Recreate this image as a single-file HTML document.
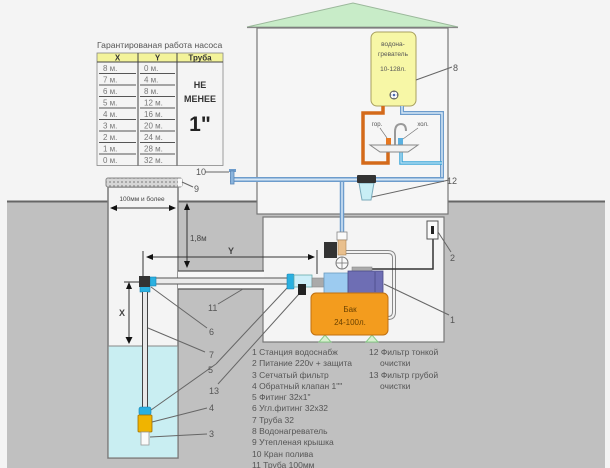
<!DOCTYPE html>
<html><head><meta charset="utf-8"><style>
html,body{margin:0;padding:0;background:#f4f4f4;}
svg{display:block;}
text{font-family:"Liberation Sans","DejaVu Sans",sans-serif;}
</style></head><body>
<svg width="610" height="468" viewBox="0 0 610 468" xmlns="http://www.w3.org/2000/svg">
<defs>
<pattern id="hatch" width="4" height="4" patternUnits="userSpaceOnUse">
<rect width="4" height="4" fill="#d6d6d6"/>
<circle cx="2" cy="2" r="1" fill="#9a9a9a"/>
</pattern>
</defs>
<rect x="0" y="0" width="610" height="468" fill="#f4f4f4"/>

<!-- ground -->
<rect x="7" y="201" width="598" height="267" fill="#c0c0c0"/>
<line x1="7" y1="201.5" x2="605" y2="201.5" stroke="#666" stroke-width="2"/>

<!-- well -->
<rect x="108" y="187" width="70" height="271" fill="#f4f4f4" stroke="#7a7a7a" stroke-width="1.5"/>
<rect x="108.8" y="346" width="68.5" height="111.3" fill="#c9eef2"/>
<line x1="108" y1="346" x2="178" y2="346" stroke="#888" stroke-width="1"/>

<!-- well cover 9 -->
<rect x="106" y="178" width="76" height="9" rx="2" fill="url(#hatch)" stroke="#888" stroke-width="1"/>
<rect x="178" y="178.5" width="4" height="8" fill="#fafafa"/>

<!-- table -->
<text x="97" y="48" font-size="8.6" fill="#555">Гарантированая работа насоса</text>
<rect x="97" y="53" width="126" height="9" fill="#f3f39a"/>
<rect x="97" y="53" width="126" height="112.5" fill="none" stroke="#888" stroke-width="0.8"/>
<line x1="138" y1="53" x2="138" y2="165.5" stroke="#444" stroke-width="1"/>
<line x1="177" y1="53" x2="177" y2="165.5" stroke="#444" stroke-width="1"/>
<line x1="97" y1="62" x2="223" y2="62" stroke="#444" stroke-width="1"/>
<text x="117.5" y="60.5" font-size="8" font-weight="bold" fill="#333" text-anchor="middle">X</text>
<text x="157.5" y="60.5" font-size="8" font-weight="bold" fill="#333" text-anchor="middle">Y</text>
<text x="200" y="60.5" font-size="8" font-weight="bold" fill="#333" text-anchor="middle">Труба</text>
<g stroke="#555" stroke-width="0.9">
<line x1="99" y1="73.5" x2="136" y2="73.5"/><line x1="140" y1="73.5" x2="175" y2="73.5"/>
<line x1="99" y1="85" x2="136" y2="85"/><line x1="140" y1="85" x2="175" y2="85"/>
<line x1="99" y1="96.5" x2="136" y2="96.5"/><line x1="140" y1="96.5" x2="175" y2="96.5"/>
<line x1="99" y1="108" x2="136" y2="108"/><line x1="140" y1="108" x2="175" y2="108"/>
<line x1="99" y1="119.5" x2="136" y2="119.5"/><line x1="140" y1="119.5" x2="175" y2="119.5"/>
<line x1="99" y1="131" x2="136" y2="131"/><line x1="140" y1="131" x2="175" y2="131"/>
<line x1="99" y1="142.5" x2="136" y2="142.5"/><line x1="140" y1="142.5" x2="175" y2="142.5"/>
<line x1="99" y1="154" x2="136" y2="154"/><line x1="140" y1="154" x2="175" y2="154"/>
</g>
<g font-size="8" fill="#777">
<text x="103" y="71">8 м.</text><text x="144" y="71">0 м.</text>
<text x="103" y="82.5">7 м.</text><text x="144" y="82.5">4 м.</text>
<text x="103" y="94">6 м.</text><text x="144" y="94">8 м.</text>
<text x="103" y="105.5">5 м.</text><text x="144" y="105.5">12 м.</text>
<text x="103" y="117">4 м.</text><text x="144" y="117">16 м.</text>
<text x="103" y="128.5">3 м.</text><text x="144" y="128.5">20 м.</text>
<text x="103" y="140">2 м.</text><text x="144" y="140">24 м.</text>
<text x="103" y="151.5">1 м.</text><text x="144" y="151.5">28 м.</text>
<text x="103" y="163">0 м.</text><text x="144" y="163">32 м.</text>
</g>
<text x="200" y="88" font-size="9" font-weight="bold" fill="#333" text-anchor="middle">НЕ</text>
<text x="200" y="102" font-size="9" font-weight="bold" fill="#333" text-anchor="middle">МЕНЕЕ</text>
<text x="200" y="131" font-size="21" font-weight="bold" fill="#222" text-anchor="middle">1"</text>

<!-- house upper -->
<polygon points="247,27 353,3 458,27" fill="#c8ecc8" stroke="#9bb89b" stroke-width="1"/>
<line x1="247" y1="27.5" x2="458" y2="27.5" stroke="#888" stroke-width="1.2"/>
<rect x="257" y="28" width="191" height="186" fill="#f6f6f6" stroke="#777" stroke-width="1.2"/>

<!-- basement -->
<rect x="263" y="217" width="181" height="125" fill="#f4f4f4" stroke="#777" stroke-width="1.2"/>

<!-- heater -->
<rect x="371" y="32" width="45" height="74" rx="6" fill="#f7f7a6" stroke="#a8a060" stroke-width="1"/>
<text x="393" y="46" font-size="6.5" fill="#555" text-anchor="middle">водона-</text>
<text x="393" y="56" font-size="6.5" fill="#555" text-anchor="middle">греватель</text>
<text x="393" y="71" font-size="6.5" fill="#555" text-anchor="middle">10-128л.</text>
<circle cx="394" cy="95" r="4" fill="#fff" stroke="#555" stroke-width="1"/>
<circle cx="394" cy="95" r="1.3" fill="#4a6ab0"/>
<g fill="#666"><circle cx="394" cy="91.8" r="0.6"/><circle cx="394" cy="98.2" r="0.6"/><circle cx="390.8" cy="95" r="0.6"/><circle cx="397.2" cy="95" r="0.6"/></g>
<line x1="416" y1="80" x2="452" y2="67" stroke="#666" stroke-width="1"/>
<text x="453" y="71" font-size="9" fill="#555">8</text>

<!-- pipes sink -->
<path d="M383,106 L383,113 L363,113 L363,163 L388,163 L388,152" fill="none" stroke="#d46a1a" stroke-width="3.5"/>
<path d="M402,106 L402,113 L442,113 L442,180" fill="none" stroke="#6d9ccc" stroke-width="4"/>
<path d="M402,106 L402,113 L442,113 L442,180" fill="none" stroke="#d5e6f5" stroke-width="1.5"/>
<path d="M401,152 L401,163 L442,163" fill="none" stroke="#3aa6d8" stroke-width="3.5"/>
<path d="M401,152 L401,163 L442,163" fill="none" stroke="#bfe3f5" stroke-width="1.2"/>
<path d="M395,145 L395,132 Q395,124 401,124 Q406,124 406,131" fill="none" stroke="#999" stroke-width="2"/>
<rect x="386" y="138" width="5" height="7" fill="#e87820"/>
<rect x="398" y="138" width="5" height="7" fill="#5ab0e0"/>
<polygon points="370,145 418,145 408,152 380,152" fill="#f2f2f2" stroke="#888" stroke-width="1"/>
<text x="377" y="126" font-size="6" fill="#555" text-anchor="middle">гор.</text>
<text x="423" y="126" font-size="6" fill="#555" text-anchor="middle">хол.</text>
<line x1="380" y1="128" x2="387" y2="138" stroke="#777" stroke-width="0.7"/>
<line x1="418" y1="128" x2="403" y2="139" stroke="#777" stroke-width="0.7"/>

<!-- main pipe -->
<line x1="230" y1="179.5" x2="444" y2="179.5" stroke="#6d9ccc" stroke-width="5"/>
<line x1="230" y1="179.5" x2="444" y2="179.5" stroke="#d5e6f5" stroke-width="2"/>
<!-- tap 10 -->
<rect x="229" y="169" width="7" height="3" fill="#6d9ccc"/>
<rect x="230.5" y="171" width="3.5" height="13" fill="#8ab4dd" stroke="#5a86b6" stroke-width="0.8"/>
<line x1="205" y1="172" x2="229" y2="172" stroke="#666" stroke-width="1"/>
<text x="196" y="175" font-size="9" fill="#555">10</text>
<line x1="182" y1="182" x2="193" y2="187" stroke="#666" stroke-width="1"/>
<text x="194" y="192" font-size="9" fill="#555">9</text>

<!-- filter 12 -->
<polygon points="359,183 374,183 371,200 362,200" fill="#c8eef5" stroke="#7aaabb" stroke-width="1"/>
<rect x="357" y="175" width="19" height="8" rx="1" fill="#333"/>
<line x1="372" y1="197" x2="449" y2="180" stroke="#666" stroke-width="1"/>
<text x="447" y="184" font-size="9" fill="#555">12</text>

<!-- vertical supply pipe -->
<line x1="342" y1="182" x2="342" y2="233" stroke="#6d9ccc" stroke-width="4.5"/>
<line x1="342" y1="182" x2="342" y2="233" stroke="#cfe3f5" stroke-width="1.6"/>

<!-- dimension 100мм -->
<text x="142" y="201" font-size="6.5" fill="#444" text-anchor="middle">100мм и более</text>
<line x1="112" y1="208" x2="174" y2="208" stroke="#333" stroke-width="1"/>
<polygon points="110,208 117,205 117,211" fill="#111"/>
<polygon points="176,208 169,205 169,211" fill="#111"/>

<!-- 1,8м -->
<line x1="187" y1="205" x2="187" y2="265" stroke="#333" stroke-width="1"/>
<polygon points="187,203 184,210 190,210" fill="#111"/>
<polygon points="187,268 184,261 190,261" fill="#111"/>
<text x="190" y="241" font-size="8" fill="#444">1,8м</text>

<!-- pipe 11 casing -->
<rect x="178" y="271" width="86" height="18" fill="#f7f7f7"/>
<line x1="178" y1="271" x2="264" y2="271" stroke="#555" stroke-width="1.2"/>
<line x1="178" y1="289" x2="264" y2="289" stroke="#555" stroke-width="1.2"/>
<!-- inner suction pipe -->
<rect x="150" y="278" width="138" height="6" fill="#eaeaea" stroke="#555" stroke-width="1"/>

<!-- Y dimension -->
<line x1="148" y1="257" x2="313" y2="257" stroke="#333" stroke-width="1"/>
<polygon points="146,257 153,254 153,260" fill="#111"/>
<polygon points="315,257 308,254 308,260" fill="#111"/>
<line x1="143" y1="251" x2="143" y2="276" stroke="#333" stroke-width="1"/>
<line x1="317" y1="250" x2="317" y2="274" stroke="#333" stroke-width="1"/>
<text x="231" y="254" font-size="9" font-weight="bold" fill="#444" text-anchor="middle">Y</text>

<!-- well corner fitting 6 -->
<rect x="150" y="277" width="6" height="9" fill="#2ab0e0" stroke="#1680b0" stroke-width="0.6"/>
<rect x="140" y="286" width="10" height="6" fill="#2ab0e0" stroke="#1680b0" stroke-width="0.6"/>
<rect x="139" y="276" width="11" height="11" fill="#333"/>
<!-- pipe 7 -->
<rect x="142" y="292" width="6" height="116" fill="#e8e8e8"/>
<line x1="142.5" y1="292" x2="142.5" y2="408" stroke="#444" stroke-width="1"/>
<line x1="147.5" y1="292" x2="147.5" y2="408" stroke="#444" stroke-width="1"/>
<!-- fitting 5, valve 4, filter 3 -->
<rect x="139" y="407" width="12" height="8" rx="2" fill="#2ab0e0" stroke="#1680b0" stroke-width="0.6"/>
<rect x="138" y="415" width="14" height="17" rx="1" fill="#f0b400" stroke="#a07000" stroke-width="0.8"/>
<rect x="141" y="432" width="8" height="13" fill="#fafafa" stroke="#999" stroke-width="0.8"/>

<!-- X dimension -->
<line x1="124" y1="282" x2="140" y2="282" stroke="#333" stroke-width="1"/>
<line x1="129" y1="284" x2="129" y2="341" stroke="#333" stroke-width="1"/>
<polygon points="129,282 126,289 132,289" fill="#111"/>
<polygon points="129,344 125.5,337 132.5,337" fill="#111"/>
<text x="122" y="316" font-size="9" font-weight="bold" fill="#444" text-anchor="middle">X</text>

<!-- leaders from well -->
<g stroke="#666" stroke-width="1" fill="none">
<line x1="151" y1="287" x2="207" y2="328"/>
<line x1="148" y1="328" x2="205" y2="352"/>
<line x1="151" y1="410" x2="216" y2="364"/>
<line x1="216" y1="364" x2="288" y2="287"/>
<line x1="218" y1="384" x2="299" y2="294"/>
<line x1="152" y1="422" x2="207" y2="408"/>
<line x1="150" y1="437" x2="207" y2="434"/>
<line x1="218" y1="304" x2="243" y2="289"/>
</g>
<g font-size="9" fill="#555">
<text x="209" y="335">6</text>
<text x="209" y="358">7</text>
<text x="208" y="373">5</text>
<text x="209" y="394">13</text>
<text x="209" y="411">4</text>
<text x="209" y="437">3</text>
<text x="208" y="311">11</text>
</g>

<!-- pump side fittings -->
<rect x="287" y="274" width="7" height="15" rx="1" fill="#2ab0e0" stroke="#1680b0" stroke-width="0.6"/>
<rect x="294" y="275" width="18" height="12" fill="#cdeef8" stroke="#6aa" stroke-width="0.8"/>
<rect x="298" y="284" width="8" height="11" fill="#222"/>
<rect x="312" y="278" width="12" height="9" fill="#aaa" stroke="#888" stroke-width="0.6"/>

<!-- hose -->
<path d="M346,252 L388,252 Q394,252 394,258 L394,312 Q394,318 388,318 L386,318" fill="none" stroke="#888" stroke-width="4"/>
<path d="M346,252 L388,252 Q394,252 394,258 L394,312 Q394,318 388,318 L386,318" fill="none" stroke="#f2f2f2" stroke-width="2"/>

<!-- check valve & switch -->
<rect x="337" y="232" width="10" height="8" fill="#fafafa" stroke="#888" stroke-width="0.8"/>
<rect x="338" y="240" width="8" height="15" fill="#e9c08e" stroke="#a88050" stroke-width="0.6"/>
<rect x="324" y="242" width="13" height="16" fill="#333"/>
<circle cx="342" cy="263" r="6" fill="#fafafa" stroke="#777" stroke-width="1"/>
<line x1="336" y1="263" x2="348" y2="263" stroke="#777" stroke-width="0.8"/>
<line x1="342" y1="257" x2="342" y2="269" stroke="#777" stroke-width="0.8"/>

<!-- wire & outlet -->
<path d="M433,239 L433,269 L372,269" fill="none" stroke="#333" stroke-width="1.5"/>
<rect x="427" y="221" width="11" height="18" fill="#fafafa" stroke="#555" stroke-width="1"/>
<rect x="431" y="226" width="3" height="8" fill="#222"/>
<line x1="438" y1="232" x2="451" y2="252" stroke="#666" stroke-width="1"/>
<text x="450" y="261" font-size="9" fill="#555">2</text>

<!-- pump -->
<rect x="352" y="267" width="20" height="6" fill="#aaa" stroke="#888" stroke-width="0.6"/>
<rect x="324" y="273" width="24" height="20" fill="#9ccbf0" stroke="#6a9ac0" stroke-width="0.8"/>
<rect x="348" y="271" width="35" height="22" fill="#6e6eb4" stroke="#4a4a88" stroke-width="0.8"/>
<line x1="375" y1="272" x2="375" y2="292" stroke="#4a4a88" stroke-width="0.8"/>
<line x1="384" y1="284" x2="449" y2="315" stroke="#666" stroke-width="1"/>
<text x="450" y="323" font-size="9" fill="#555">1</text>

<!-- tank -->
<polygon points="325,335 319,342 331,342" fill="#d9f0d0" stroke="#8c8" stroke-width="1"/>
<polygon points="372,335 366,342 378,342" fill="#d9f0d0" stroke="#8c8" stroke-width="1"/>
<rect x="311" y="293" width="77" height="42" rx="5" fill="#f39c1e" stroke="#c07010" stroke-width="1"/>
<text x="350" y="312" font-size="8" fill="#6b4200" text-anchor="middle">Бак</text>
<text x="350" y="325" font-size="8" fill="#6b4200" text-anchor="middle">24-100л.</text>

<!-- legend -->
<g font-size="8.5" fill="#555">
<text x="252" y="355">1 Станция водоснабж</text>
<text x="252" y="366">2 Питание 220v + защита</text>
<text x="252" y="378">3 Сетчатый фильтр</text>
<text x="252" y="389">4 Обратный клапан 1""</text>
<text x="252" y="400">5 Фитинг 32х1"</text>
<text x="252" y="411">6 Угл.фитинг 32х32</text>
<text x="252" y="423">7 Труба 32</text>
<text x="252" y="434">8 Водонагреватель</text>
<text x="252" y="445">9 Утепленая крышка</text>
<text x="252" y="457">10 Кран полива</text>
<text x="252" y="468">11 Труба 100мм</text>
<text x="369" y="355">12 Фильтр тонкой</text>
<text x="380" y="366">очистки</text>
<text x="369" y="378">13 Фильтр грубой</text>
<text x="380" y="389">очистки</text>
</g>
</svg>
</body></html>
